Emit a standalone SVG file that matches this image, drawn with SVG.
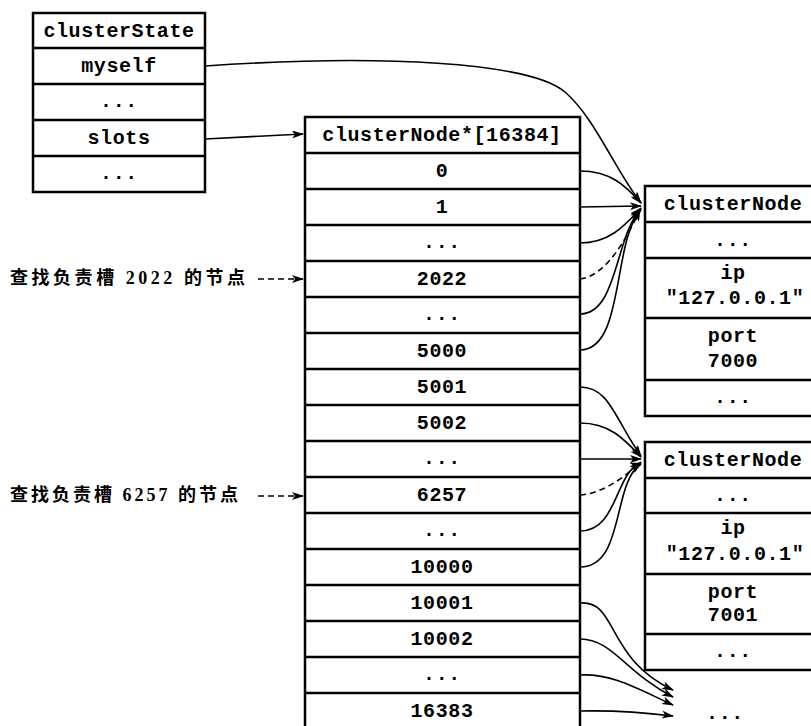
<svg xmlns="http://www.w3.org/2000/svg" width="811" height="726" viewBox="0 0 811 726">
<style>
.box{fill:#fff;stroke:#000;stroke-width:2.5}
.sep{stroke:#000;stroke-width:2.5}
.t{font-family:'Liberation Mono','DejaVu Sans Mono',monospace;font-weight:bold;font-size:20px;letter-spacing:0.6px;text-anchor:middle;fill:#000}
.lbl{font-family:'Liberation Serif','Noto Sans CJK SC',serif;font-weight:bold;font-size:18px;fill:#000}
.c{fill:none;stroke:#000;stroke-width:1.6}
.d{stroke-dasharray:6 4}
</style>
<defs>
<marker id="ah" viewBox="0 0 12 8" refX="11" refY="4" markerWidth="13" markerHeight="8" markerUnits="userSpaceOnUse" orient="auto">
<path d="M0,0 L12,4 L0,8 L3,4 z" fill="#000"/>
</marker>
</defs>
<rect width="811" height="726" fill="#fff"/>

<g id="clusterState">
<rect class="box" x="33" y="13" width="172" height="179"/>
<line class="sep" x1="33" y1="48" x2="205" y2="48"/>
<line class="sep" x1="33" y1="84" x2="205" y2="84"/>
<line class="sep" x1="33" y1="120" x2="205" y2="120"/>
<line class="sep" x1="33" y1="156" x2="205" y2="156"/>
<text class="t" x="119" y="37">clusterState</text>
<text class="t" x="119" y="72">myself</text>
<text class="t" x="119" y="107">...</text>
<text class="t" x="119" y="144">slots</text>
<text class="t" x="119" y="179">...</text>
</g>

<g id="slotsArray">
<rect class="box" x="305" y="117" width="275" height="615"/>
<line class="sep" x1="305" y1="153" x2="580" y2="153"/>
<line class="sep" x1="305" y1="189" x2="580" y2="189"/>
<line class="sep" x1="305" y1="225" x2="580" y2="225"/>
<line class="sep" x1="305" y1="261" x2="580" y2="261"/>
<line class="sep" x1="305" y1="297" x2="580" y2="297"/>
<line class="sep" x1="305" y1="333" x2="580" y2="333"/>
<line class="sep" x1="305" y1="369" x2="580" y2="369"/>
<line class="sep" x1="305" y1="405" x2="580" y2="405"/>
<line class="sep" x1="305" y1="441" x2="580" y2="441"/>
<line class="sep" x1="305" y1="477" x2="580" y2="477"/>
<line class="sep" x1="305" y1="513" x2="580" y2="513"/>
<line class="sep" x1="305" y1="549" x2="580" y2="549"/>
<line class="sep" x1="305" y1="585" x2="580" y2="585"/>
<line class="sep" x1="305" y1="621" x2="580" y2="621"/>
<line class="sep" x1="305" y1="657" x2="580" y2="657"/>
<line class="sep" x1="305" y1="693" x2="580" y2="693"/>
<text class="t" x="442" y="141">clusterNode*[16384]</text>
<text class="t" x="442" y="177">0</text>
<text class="t" x="442" y="213">1</text>
<text class="t" x="442" y="248">...</text>
<text class="t" x="442" y="285">2022</text>
<text class="t" x="442" y="320">...</text>
<text class="t" x="442" y="357">5000</text>
<text class="t" x="442" y="393">5001</text>
<text class="t" x="442" y="429">5002</text>
<text class="t" x="442" y="464">...</text>
<text class="t" x="442" y="501">6257</text>
<text class="t" x="442" y="536">...</text>
<text class="t" x="442" y="573">10000</text>
<text class="t" x="442" y="609">10001</text>
<text class="t" x="442" y="645">10002</text>
<text class="t" x="442" y="680">...</text>
<text class="t" x="442" y="717">16383</text>
</g>

<g id="clusterNode1">
<rect class="box" x="645" y="186" width="176" height="230"/>
<line class="sep" x1="645" y1="222" x2="821" y2="222"/>
<line class="sep" x1="645" y1="258" x2="821" y2="258"/>
<line class="sep" x1="645" y1="318" x2="821" y2="318"/>
<line class="sep" x1="645" y1="380" x2="821" y2="380"/>
<text class="t" x="733" y="210">clusterNode</text>
<text class="t" x="733" y="246">...</text>
<text class="t" x="733" y="279">ip</text>
<text class="t" x="735" y="304">"127.0.0.1"</text>
<text class="t" x="733" y="342">port</text>
<text class="t" x="733" y="367">7000</text>
<text class="t" x="733" y="403">...</text>
</g>

<g id="clusterNode2">
<rect class="box" x="645" y="442" width="176" height="228"/>
<line class="sep" x1="645" y1="478" x2="821" y2="478"/>
<line class="sep" x1="645" y1="513" x2="821" y2="513"/>
<line class="sep" x1="645" y1="574" x2="821" y2="574"/>
<line class="sep" x1="645" y1="634" x2="821" y2="634"/>
<text class="t" x="733" y="466">clusterNode</text>
<text class="t" x="733" y="501">...</text>
<text class="t" x="733" y="534">ip</text>
<text class="t" x="735" y="560">"127.0.0.1"</text>
<text class="t" x="733" y="598">port</text>
<text class="t" x="733" y="621">7001</text>
<text class="t" x="733" y="657">...</text>
</g>

<g id="otherNodes">
<text class="t" x="725" y="719">...</text>
</g>

<g id="label2022">
<text class="lbl" x="10" y="284" textLength="235" lengthAdjust="spacing">查找负责槽 2022 的节点</text>
</g>
<g id="label6257">
<text class="lbl" x="10" y="501" textLength="228" lengthAdjust="spacing">查找负责槽 6257 的节点</text>
</g>

<g id="connectors">
<path class="c" d="M205,66 C380,54 530,62 565,92 C595,118 615,170 641,203" marker-end="url(#ah)"/>
<path class="c" d="M205,139 L303,134" marker-end="url(#ah)"/>
<path class="c d" d="M258,279 L303,279" marker-end="url(#ah)"/>
<path class="c d" d="M258,496 L303,496" marker-end="url(#ah)"/>

<path class="c" d="M580,171 C610,171 625,185 641,203" marker-end="url(#ah)"/>
<path class="c" d="M580,207 L641,206" marker-end="url(#ah)"/>
<path class="c" d="M580,243 C610,243 625,225 641,208" marker-end="url(#ah)"/>
<path class="c d" d="M580,279 C605,276 625,242 640,210" marker-end="url(#ah)"/>
<path class="c" d="M580,314 C618,314 615,235 641,209" marker-end="url(#ah)"/>
<path class="c" d="M580,350 C625,350 612,240 641,210" marker-end="url(#ah)"/>

<path class="c" d="M580,387 C610,387 615,420 641,456" marker-end="url(#ah)"/>
<path class="c" d="M580,423 C610,423 625,440 641,457" marker-end="url(#ah)"/>
<path class="c" d="M580,459 L641,459" marker-end="url(#ah)" stroke-width="1.2"/>
<path class="c d" d="M580,495 C605,493 625,476 641,462" marker-end="url(#ah)"/>
<path class="c" d="M580,531 C618,531 615,472 641,463" marker-end="url(#ah)"/>
<path class="c" d="M580,567 C625,567 612,482 641,464" marker-end="url(#ah)"/>

<path class="c" d="M580,603 C618,600 605,658 673,690" marker-end="url(#ah)"/>
<path class="c" d="M580,639 C612,639 625,672 673,697" marker-end="url(#ah)"/>
<path class="c" d="M580,675 C612,673 640,690 673,705" marker-end="url(#ah)"/>
<path class="c" d="M580,711 Q625,710 673,716" marker-end="url(#ah)"/>
</g>
</svg>
